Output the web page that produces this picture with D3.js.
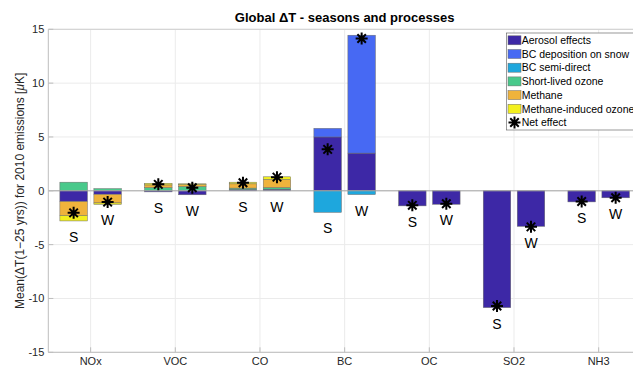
<!DOCTYPE html>
<html><head><meta charset="utf-8">
<script src="https://cdn.jsdelivr.net/npm/d3@7"></script>
<style>html,body{margin:0;padding:0;background:#fff;overflow:hidden}svg{display:block}text{font-family:"Liberation Sans",Arial,Helvetica,sans-serif}</style>
</head><body><svg id="c" width="633" height="366"></svg>
<script>
// ---- data ----
const categories = ["NOx","VOC","CO","BC","OC","SO2","NH3"];
const seasons = ["S","W"];
const seriesNames = ["Aerosol effects","BC deposition on snow","BC semi-direct","Short-lived ozone","Methane","Methane-induced ozone"];
const seriesColors = ["#3d28a6","#4769f3","#1ea7dd","#49c98b","#efb33c","#f3f01e"];
// order: NOx S, NOx W, VOC S, VOC W, CO S, CO W, BC S, BC W, OC S, OC W, SO2 S, SO2 W, NH3 S, NH3 W
const aerosol    = [-1.0,-0.33,-0.1,-0.37,0.12,0.15,5.0,3.5,-1.4,-1.25,-10.85,-3.3,-1.03,-0.65];
const bcDeposit  = [0,0,0,0,0,0,0.8,10.95,0,0,0,0,0,0];
const bcSemi     = [0,0,0,0,0,0,-2.0,-0.35,0,0,0,0,0,0];
const ozone      = [0.8,0.2,0.3,0.4,0.13,0.15,0,0,0,0,0,0,0,0];
const methane    = [-1.3,-0.8,0.25,0.18,0.4,0.75,0,0,0,0,0,0,0,0];
const methOzone  = [-0.5,-0.13,0.15,0.07,0.15,0.25,0,0,0,0,0,0,0,0];
const netEffect  = [-2.05,-1.05,0.6,0.28,0.75,1.27,3.85,14.15,-1.35,-1.2,-10.7,-3.35,-1.0,-0.65];
const yTicks = [-15,-10,-5,0,5,10,15];
const titleText = "Global \u0394T - seasons and processes";
const yLabel = "Mean(\u0394T(1\u221225 yrs)) for 2010 emissions [";

// ---- build rows ----
const seriesVals = [aerosol,bcDeposit,bcSemi,ozone,methane,methOzone];
const rows = [];
categories.forEach((c,ci)=>seasons.forEach((s,si)=>{
  const i = ci*2+si;
  const r = {cat:c, season:s, net:netEffect[i]};
  seriesNames.forEach((n,k)=>r[n]=seriesVals[k][i]);
  rows.push(r);
}));

const svg = d3.select("#c");
const L=48.3, R=641, T=29.3, B=352.3;
const x = d3.scaleBand().domain(categories).range([L,R]).padding(0);
const sub = d3.scalePoint().domain(seasons).range([-17,17]);
const barW = x.bandwidth()*0.325;
const y = d3.scaleLinear().domain([-15,15]).range([B,T]);

// grid
const g = svg.append("g");
g.selectAll(".gy").data(yTicks).enter().append("line")
  .attr("x1",L).attr("x2",R).attr("y1",d=>y(d)).attr("y2",d=>y(d))
  .attr("stroke","#ebebeb").attr("stroke-width",1);
g.selectAll(".gx").data(categories).enter().append("line")
  .attr("x1",d=>x(d)+x.bandwidth()/2).attr("x2",d=>x(d)+x.bandwidth()/2).attr("y1",T).attr("y2",B)
  .attr("stroke","#ebebeb").attr("stroke-width",1);

// stacks
const stack = d3.stack().keys(seriesNames).offset(d3.stackOffsetDiverging)(rows);
stack.forEach((layer,k)=>{
  svg.append("g").selectAll("rect").data(layer).enter().append("rect")
    .attr("x",d=>x(d.data.cat)+x.bandwidth()/2+sub(d.data.season)-barW/2)
    .attr("width",barW)
    .attr("y",d=>y(Math.max(d[0],d[1])))
    .attr("height",d=>Math.abs(y(d[0])-y(d[1])))
    .attr("fill",seriesColors[k])
    .attr("stroke",d=>d[0]===d[1]?"none":"#6a6a6a").attr("stroke-width",0.5);
});

// zero line
svg.append("line").attr("x1",L).attr("x2",R).attr("y1",y(0)).attr("y2",y(0))
  .attr("stroke","#a6a6a6").attr("stroke-width",1);

// axes
const ax = svg.append("g");
ax.append("path").attr("d",`M${L},${T}V${B}H${R}`).attr("fill","none").attr("stroke","#bdbdbd").attr("stroke-width",1);
ax.append("line").attr("x1",L).attr("x2",R).attr("y1",T).attr("y2",T).attr("stroke","#cfcfcf");
ax.selectAll(".ty").data(yTicks).enter().append("line")
  .attr("x1",L).attr("x2",L+5).attr("y1",d=>y(d)).attr("y2",d=>y(d)).attr("stroke","#bdbdbd");
ax.selectAll(".tyl").data(yTicks).enter().append("text")
  .attr("x",L-4).attr("y",d=>y(d)+4).attr("text-anchor","end").attr("font-size",11).attr("fill","#262626").text(d=>d);
ax.selectAll(".tx").data(categories).enter().append("line")
  .attr("x1",d=>x(d)+x.bandwidth()/2).attr("x2",d=>x(d)+x.bandwidth()/2).attr("y1",B).attr("y2",B-5).attr("stroke","#bdbdbd");
ax.selectAll(".txl").data(categories).enter().append("text")
  .attr("x",d=>x(d)+x.bandwidth()/2).attr("y",364.5).attr("text-anchor","middle").attr("font-size",11).attr("fill","#262626").text(d=>d);

// net stars
function star(sel, cx, cy, r){
  const d = r*Math.SQRT1_2;
  const p = `M${cx-r},${cy}H${cx+r}M${cx},${cy-r}V${cy+r}M${cx-d},${cy-d}L${cx+d},${cy+d}M${cx-d},${cy+d}L${cx+d},${cy-d}`;
  sel.append("path").attr("d",p).attr("stroke","#000").attr("stroke-width",2).attr("fill","none");
}
const sg = svg.append("g");
rows.forEach(r=>{
  const cx = x(r.cat)+x.bandwidth()/2+sub(r.season);
  star(sg, cx, y(r.net), 6);
});

// S / W labels
svg.append("g").selectAll("text").data(rows).enter().append("text")
  .attr("x",d=>x(d.cat)+x.bandwidth()/2+sub(d.season))
  .attr("y",d=>{
    const negSum = seriesNames.reduce((a,n)=>a+Math.min(0,d[n]),0);
    return y(Math.min(0, d.net, negSum))+21;
  })
  .attr("text-anchor","middle").attr("font-size",14).attr("fill","#000").text(d=>d.season);

// title
svg.append("text").attr("x",(L+R)/2).attr("y",22).attr("text-anchor","middle")
  .attr("font-size",13).attr("font-weight","bold").attr("fill","#000").text(titleText);

// y label
const yl = svg.append("text").attr("transform",`translate(24,${(T+B)/2}) rotate(-90)`)
  .attr("text-anchor","middle").attr("font-size",12).attr("fill","#262626");
yl.append("tspan").text(yLabel);
yl.append("tspan").attr("font-style","italic").text("\u03bc");
yl.append("tspan").text("K]");

// legend
const lg = svg.append("g");
const lx = 506.5, ly = 33, rowH = 13.7;
lg.append("rect").attr("x",lx).attr("y",ly).attr("width",140).attr("height",97)
  .attr("fill","#fff").attr("stroke","#555").attr("stroke-width",0.6);
seriesNames.forEach((n,k)=>{
  const cy = ly+7.3+k*rowH;
  lg.append("rect").attr("x",lx+1.5).attr("y",cy-4.5).attr("width",13).attr("height",9)
    .attr("fill",seriesColors[k]).attr("stroke","#6a6a6a").attr("stroke-width",0.5);
  lg.append("text").attr("x",lx+15.2).attr("y",cy+3.7).attr("font-size",10.5).attr("fill","#000").text(n);
});
{
  const cy = ly+7.3+6*rowH;
  star(lg, lx+8, cy, 6);
  lg.append("text").attr("x",lx+15.2).attr("y",cy+3.7).attr("font-size",10.5).attr("fill","#000").text("Net effect");
}
</script></body></html>
